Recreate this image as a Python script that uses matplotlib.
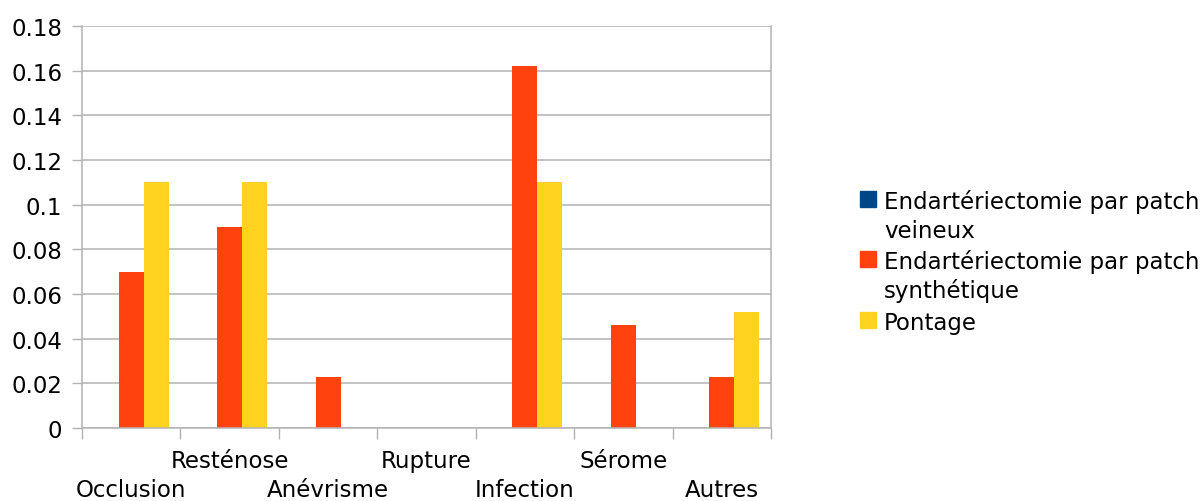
import numpy as np
import matplotlib
matplotlib.use("Agg")
import matplotlib.pyplot as plt
from matplotlib.patches import Rectangle

# --- Data ---
categories = ["Occlusion", "Resténose", "Anévrisme", "Rupture",
              "Infection", "Sérome", "Autres"]
series_names = ["Endartériectomie par patch\nveineux",
                "Endartériectomie par patch\nsynthétique",
                "Pontage"]
patch_veineux = [0, 0, 0, 0, 0, 0, 0]
patch_synthetique = [0.07, 0.09, 0.023, 0, 0.162, 0.046, 0.023]
pontage = [0.11, 0.11, 0, 0, 0.11, 0, 0.052]
y_ticks = [0, 0.02, 0.04, 0.06, 0.08, 0.1, 0.12, 0.14, 0.16, 0.18]
y_tick_labels = ["0", "0.02", "0.04", "0.06", "0.08", "0.1",
                 "0.12", "0.14", "0.16", "0.18"]

colors = ["#004586", "#ff420e", "#ffd320"]
grid_col = "#b3b3b3"

plt.rcParams['font.family'] = ['DejaVu Sans']
plt.rcParams['font.size'] = 16.5

W, H = 1204, 502
fig = plt.figure(figsize=(W / 100, H / 100), dpi=100)
ax = fig.add_axes([82 / W, 1 - 429 / H, (771 - 82) / W, (429 - 27) / H])

# --- Bars ---
x = np.arange(len(categories)) + 0.5
width = 0.254
all_series = [patch_veineux, patch_synthetique, pontage]
for i, vals in enumerate(all_series):
    ax.bar(x + (i - 1) * width, vals, width, color=colors[i], zorder=2)

# --- Axes styling ---
ax.set_xlim(0, len(categories))
ax.set_ylim(0, 0.18)
ax.set_yticks(y_ticks)
ax.set_yticklabels(y_tick_labels)
ax.set_xticks(np.arange(len(categories) + 1))
ax.set_xticklabels([])
ax.yaxis.grid(True, color=grid_col, linewidth=1.1, zorder=0)
ax.set_axisbelow(True)
ax.tick_params(axis='y', length=7.2, width=1, color=grid_col, pad=7)
ax.tick_params(axis='x', length=8, width=1, color=grid_col)
ax.spines['top'].set_visible(False)
for s in ['left', 'right', 'bottom']:
    ax.spines[s].set_color(grid_col)
    ax.spines[s].set_linewidth(1.1)

# staggered category labels
trans = ax.get_xaxis_transform()
for i, cat in enumerate(categories):
    yy = -0.152 if i % 2 == 0 else -0.082
    ax.text(x[i], yy, cat, transform=trans, ha='center', va='center',
            color='black')

# --- Legend (drawn by hand to keep wrapped labels aligned) ---
entry_baselines = [209, 269, 330]
for name, col, base in zip(series_names, colors, entry_baselines):
    fig.patches.append(Rectangle((860 / W, 1 - (base - 1) / H), 16 / W, 16 / H,
                                 transform=fig.transFigure, color=col))
    for j, line in enumerate(name.split("\n")):
        fig.text(884 / W, 1 - (base + j * 29) / H, line, ha='left',
                 va='baseline')

fig.savefig("out.png", dpi=100)
